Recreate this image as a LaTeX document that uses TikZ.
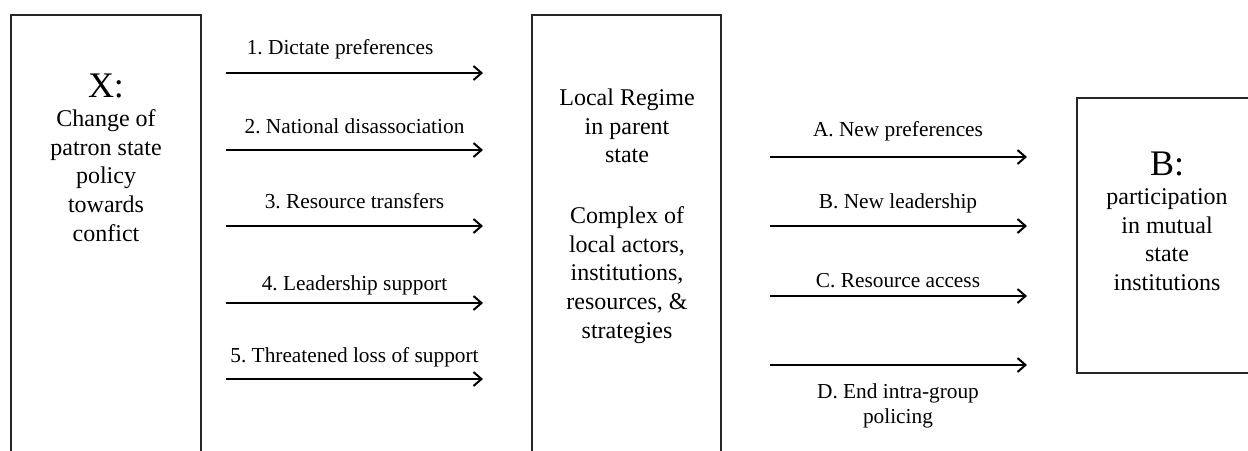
\documentclass[tikz,border=0pt]{standalone}
\usepackage{fontspec}
\setmainfont{Liberation Serif}
\usetikzlibrary{arrows.meta}
\frenchspacing
\begin{document}
\begin{tikzpicture}[x=0.75pt,y=-0.75pt,
  box/.style={draw=black!85, line width=0.8pt},
  flow/.style={line width=1.5pt, -{Straight Barb[length=6pt,width=10.5pt]}},
  lbl/.style={font=\fontsize{16}{18.2}\selectfont, inner sep=0pt, anchor=base},
  boxtext/.style={font=\fontsize{18}{21.4}\selectfont, align=center, inner sep=0pt, anchor=base},
  head/.style={font=\fontsize{27}{30}\selectfont, inner sep=0pt, anchor=base}]
\useasboundingbox (0,0) rectangle (1248,450);
\clip (0,0) rectangle (1248,450);
% boxes
\draw[box] (11,15) rectangle (201,480);
\draw[box] (532,15) rectangle (721,480);
\draw[box] (1077,98) rectangle (1258,373);
% box texts (anchor base = baseline of the last line)
\node[head] (xhead) at (106,97) {X:};
\node[boxtext] (xbody) at (106,241) {Change of\\patron state\\policy\\towards\\confict};
\node[boxtext] (mbody) at (627,338) {Local Regime\\in parent\\state\\[24.4pt]Complex of\\local actors,\\institutions,\\resources, \&\\strategies};
\node[head] (bhead) at (1167,175) {B:};
\node[boxtext] (bbody) at (1167,290.5) {participation\\in mutual\\state\\institutions};
% left arrows
\coordinate (l1s) at (226,73);  \coordinate (l1e) at (483,73);
\coordinate (l2s) at (226,150); \coordinate (l2e) at (483,150);
\coordinate (l3s) at (226,226); \coordinate (l3e) at (483,226);
\coordinate (l4s) at (226,303); \coordinate (l4e) at (483,303);
\coordinate (l5s) at (226,379); \coordinate (l5e) at (483,379);
\draw[flow] (l1s) -- (l1e);
\draw[flow] (l2s) -- (l2e);
\draw[flow] (l3s) -- (l3e);
\draw[flow] (l4s) -- (l4e);
\draw[flow] (l5s) -- (l5e);
\node[lbl, anchor=base west] (t1) at (246.5,54) {1. Dictate preferences};
\node[lbl] (t2) at (354.5,133) {2. National disassociation};
\node[lbl] (t3) at (354.5,208.5) {3. Resource transfers};
\node[lbl] (t4) at (354.5,290) {4. Leadership support};
\node[lbl] (t5) at (354.5,362) {5. Threatened loss of support};
% right arrows
\coordinate (r1s) at (770,157); \coordinate (r1e) at (1027,157);
\coordinate (r2s) at (770,226); \coordinate (r2e) at (1027,226);
\coordinate (r3s) at (770,296); \coordinate (r3e) at (1027,296);
\coordinate (r4s) at (770,365); \coordinate (r4e) at (1027,365);
\draw[flow] (r1s) -- (r1e);
\draw[flow] (r2s) -- (r2e);
\draw[flow] (r3s) -- (r3e);
\draw[flow] (r4s) -- (r4e);
\node[lbl] (ta) at (898,136) {A. New preferences};
\node[lbl] (tb) at (898,208) {B. New leadership};
\node[lbl] (tc) at (898,287) {C. Resource access};
\node[lbl, align=center] (td) at (898,423) {D. End intra-group\\policing};
\end{tikzpicture}
\end{document}
